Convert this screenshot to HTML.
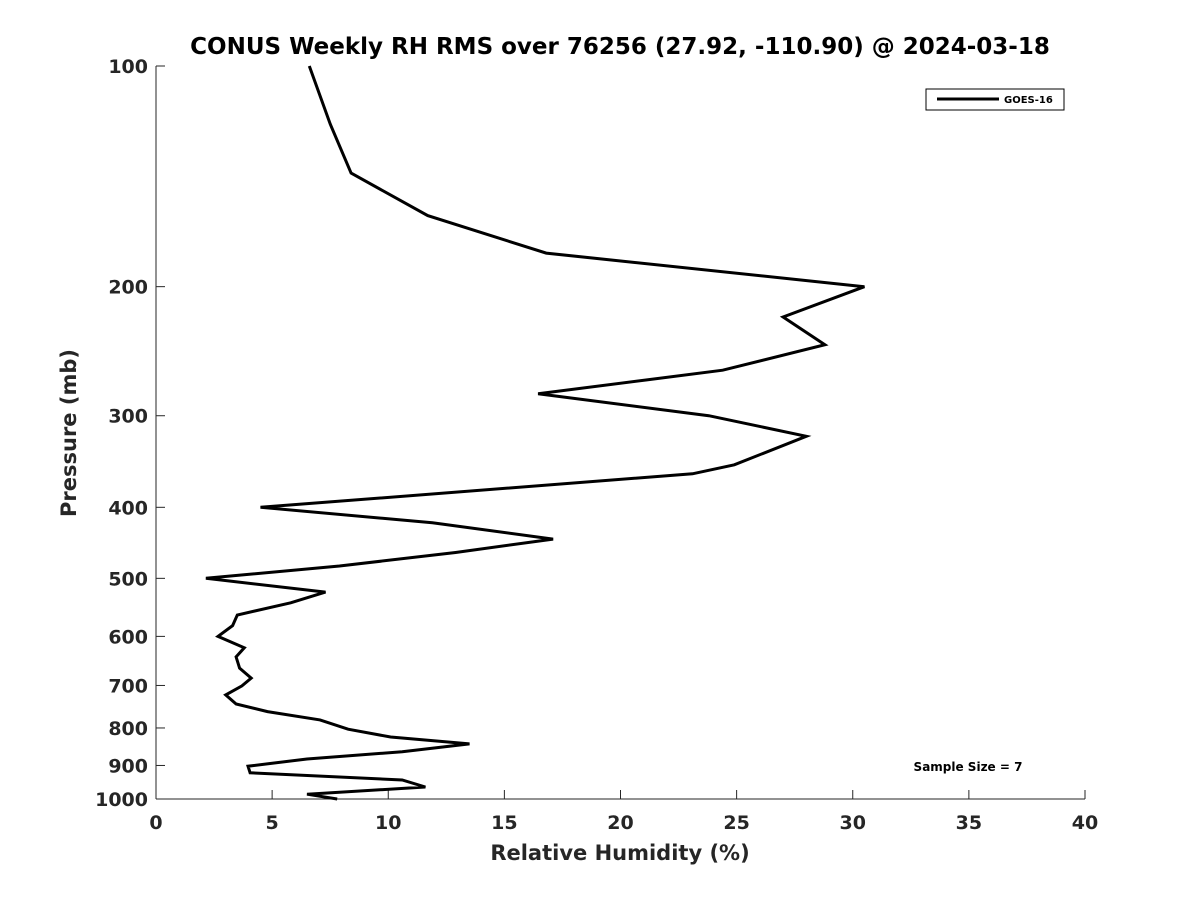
<!DOCTYPE html>
<html><head><meta charset="utf-8"><style>
body{margin:0;background:#fff;font-family:"Liberation Sans","DejaVu Sans",sans-serif}
svg text{font-family:"DejaVu Sans","Liberation Sans",sans-serif;font-weight:bold;fill:#262626}
</style></head><body>
<svg id="chart" width="1200" height="900" xmlns="http://www.w3.org/2000/svg">
<rect width="1200" height="900" fill="#fff"/>
<text x="620" y="54" text-anchor="middle" font-size="23" style="fill:#000">CONUS Weekly RH RMS over 76256 (27.92, -110.90) @ 2024-03-18</text>
<g id="axes"></g>
<path id="line" fill="none" stroke="#000" stroke-width="3" stroke-linejoin="miter"/>
<g>
<rect x="926" y="89" width="138" height="21" fill="#fff" stroke="#000" stroke-width="1"/>
<line x1="937" y1="99" x2="999" y2="99" stroke="#000" stroke-width="3"/>
<text x="1004" y="103" font-size="10" style="fill:#000">GOES-16</text>
</g>
<text x="968" y="771" text-anchor="middle" font-size="12" style="fill:#000">Sample Size = 7</text>
<text x="620" y="860" text-anchor="middle" font-size="21">Relative Humidity (%)</text>
<text transform="translate(76,433) rotate(-90)" text-anchor="middle" font-size="21">Pressure (mb)</text>
</svg>
<script>
const pressures=[100,120,140,160,180,200,220,240,260,280,300,320,350,360,400,420,442,461,481,500,522,540,561,580,600,622,640,663,684,701,721,742,760,780,803,823,841,862,882,902,921,942,963,985,1000];
const rhValues=[6.6,7.5,8.4,11.7,16.8,30.5,27.0,28.8,24.4,16.45,23.8,28.0,24.9,23.1,4.5,11.9,17.1,12.9,7.9,2.15,7.3,5.8,3.5,3.3,2.67,3.8,3.45,3.6,4.1,3.7,3.0,3.45,4.8,7.06,8.27,10.1,13.5,10.6,6.5,3.96,4.05,10.6,11.6,6.5,7.8];
const xTicks=[0,5,10,15,20,25,30,35,40];
const yTicks=[100,200,300,400,500,600,700,800,900,1000];
const X0=156,X1=1085,Y0=66,Y1=799;
const xs=v=>X0+(v-0)/(40-0)*(X1-X0);
const ys=p=>Y0+(Math.log10(p)-2)*(Y1-Y0);
const ns="http://www.w3.org/2000/svg";
const ax=document.getElementById('axes');
function mk(t,a){const e=document.createElementNS(ns,t);for(const k in a)e.setAttribute(k,a[k]);ax.appendChild(e);return e;}
let e=mk('line',{x1:X0,y1:Y0,x2:X0,y2:Y1,stroke:'#262626','stroke-width':1});


e=mk('line',{x1:X0,y1:Y1,x2:X1,y2:Y1,stroke:'#262626','stroke-width':1});


xTicks.forEach(v=>{
 mk('line',{x1:xs(v),y1:Y1,x2:xs(v),y2:Y1-9,stroke:'#262626'});
 const t=mk('text',{x:xs(v),y:Y1+30,'text-anchor':'middle','font-size':19});
 t.textContent=v;
 
 
});
yTicks.forEach(p=>{
 mk('line',{x1:X0,y1:ys(p),x2:X0+9,y2:ys(p),stroke:'#262626'});
 const t=mk('text',{x:X0-8,y:ys(p)+7,'text-anchor':'end','font-size':19});
 t.textContent=p;
 
 
});
document.getElementById('line').setAttribute('d',pressures.map((p,i)=>(i?'L':'M')+xs(rhValues[i]).toFixed(1)+','+ys(p).toFixed(1)).join(''));
</script>
</body></html>
